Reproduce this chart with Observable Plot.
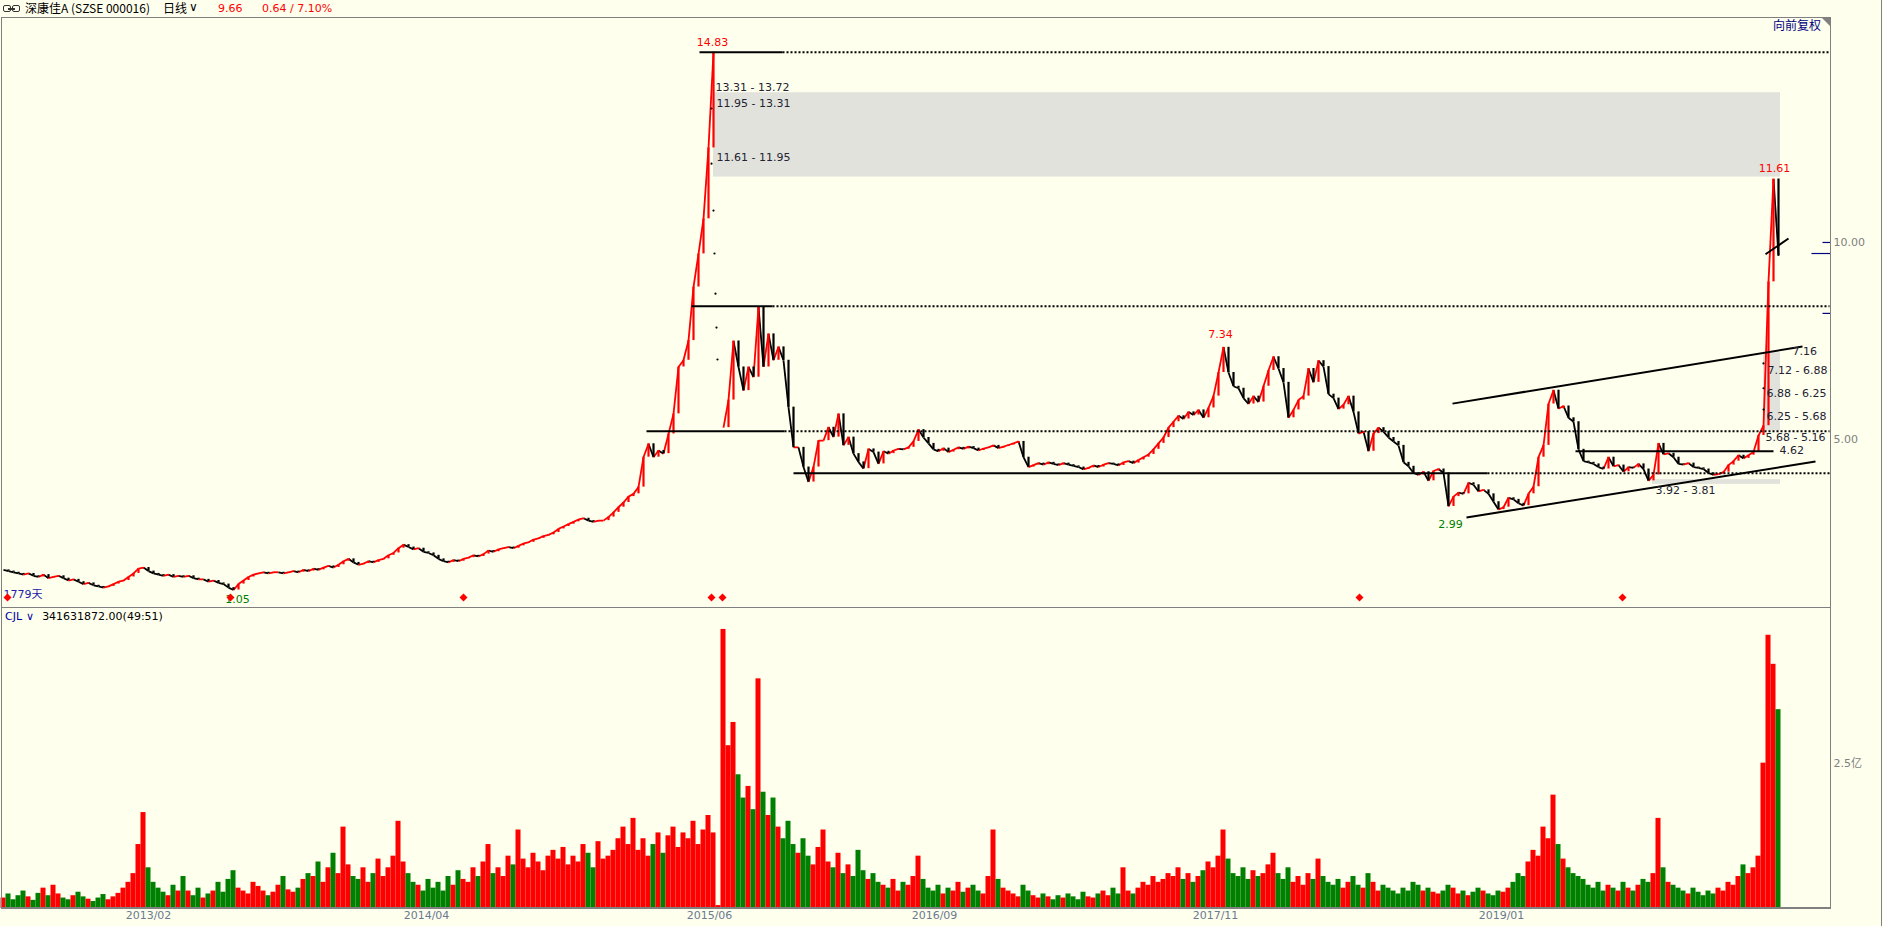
<!DOCTYPE html>
<html><head><meta charset="utf-8">
<script src="https://cdn.jsdelivr.net/npm/d3@7"></script>
<script src="https://cdn.jsdelivr.net/npm/@observablehq/plot@0.6"></script>
<style>
html,body{margin:0;padding:0;background:#FFFFEE;}
#wrap{position:relative;width:1883px;height:926px;background:#FFFFEE;overflow:hidden;font-family:"DejaVu Sans","Noto Sans CJK SC",sans-serif;}
.abs{position:absolute;white-space:nowrap;line-height:1;}
.ln{position:absolute;background:#808080;}
.cjk{font-family:"Noto Sans CJK SC",sans-serif;}
</style></head><body>
<div id="wrap">
  <div class="abs" style="left:3px;top:5px;width:18px;height:8px;">
    <span style="position:absolute;left:0;top:0;width:6px;height:5px;border:1.5px solid #333;border-radius:2px;"></span>
    <span style="position:absolute;left:9px;top:0;width:6px;height:5px;border:1.5px solid #333;border-radius:2px;"></span>
    <span style="position:absolute;left:5px;top:3px;width:7px;height:1.5px;background:#333;"></span>
  </div>
  <div class="abs cjk" style="left:25px;top:2px;font-size:12px;color:#000;">深康佳A (SZSE 000016)</div>
  <div class="abs cjk" style="left:163px;top:2px;font-size:12px;color:#000;">日线</div>
  <div class="abs" style="left:189px;top:1px;font-size:12px;color:#000;">∨</div>
  <div class="abs" style="left:218px;top:3px;font-size:11px;color:#FF0000;">9.66</div>
  <div class="abs" style="left:262px;top:3px;font-size:11px;color:#FF0000;">0.64 / 7.10%</div>

  <div id="price" class="abs" style="left:0;top:17px;"></div>
  <div id="vol" class="abs" style="left:0;top:608px;"></div>

  <div class="ln" style="left:1px;top:17px;width:1px;height:891px;"></div>
  <div class="ln" style="left:1px;top:17px;width:1830px;height:1px;"></div>
  <div class="ln" style="left:1830px;top:17px;width:1px;height:891px;"></div>
  <div class="ln" style="left:1px;top:607px;width:1830px;height:1px;"></div>
  <div class="ln" style="left:1px;top:907px;width:1830px;height:2px;"></div>
  <div class="ln" style="left:1881px;top:0;width:1px;height:926px;"></div>
  <div class="abs" style="left:1822px;top:18px;width:0;height:0;border-top:8px solid #808080;border-left:8px solid transparent;"></div>
  <div class="abs cjk" style="left:1773px;top:19px;font-size:12px;color:#000080;">向前复权</div>
  <div class="abs" style="left:5px;top:611px;font-size:11px;"><span style="color:#0000A0">CJL</span><span style="color:#0000A0;margin-left:4px;">∨</span><span style="color:#000;margin-left:8px;">341631872.00(49:51)</span></div>
</div>
<script>
// ---- data: daily K-line sampled every 5 trading days (close prices, 元) ----
const step = 5;
const closes = [
1.69,1.66,1.63,1.60,1.57,1.60,1.54,1.51,1.57,1.48,
1.51,1.54,1.48,1.42,1.45,1.39,1.33,1.36,1.30,1.27,
1.24,1.27,1.33,1.39,1.42,1.51,1.60,1.72,1.75,1.66,
1.60,1.57,1.54,1.57,1.51,1.54,1.51,1.54,1.48,1.45,
1.45,1.39,1.42,1.36,1.33,1.24,1.18,1.33,1.42,1.51,
1.57,1.60,1.63,1.60,1.63,1.63,1.60,1.63,1.66,1.63,
1.69,1.66,1.72,1.69,1.75,1.79,1.75,1.82,1.91,1.97,
1.88,1.82,1.85,1.91,1.88,1.94,1.97,2.06,2.12,2.24,
2.33,2.27,2.21,2.24,2.15,2.12,2.06,1.97,1.91,1.88,
1.94,1.91,1.97,2.00,2.06,2.03,2.09,2.18,2.15,2.21,
2.24,2.27,2.24,2.30,2.36,2.39,2.46,2.49,2.55,2.58,
2.64,2.73,2.79,2.85,2.91,2.97,3.00,2.94,2.91,2.94,
2.94,3.03,3.15,3.28,3.40,3.55,3.62,3.79,4.55,4.89,
4.55,4.72,4.64,5.14,5.65,6.84,7.01,7.51,8.87,9.71,
10.60,12.40,14.83,null,5.30,6.00,7.50,6.84,6.24,6.84,
6.58,8.36,6.84,7.68,7.01,7.35,7.01,5.82,4.80,4.80,
4.30,3.92,4.30,4.97,4.97,5.31,5.06,5.65,4.85,5.06,
4.64,4.43,4.26,4.76,4.68,4.38,4.70,4.64,4.72,4.76,
4.75,4.80,4.95,5.25,5.05,4.90,4.75,4.70,4.78,4.68,
4.74,4.80,4.76,4.82,4.78,4.72,4.77,4.80,4.85,4.78,
4.82,4.86,4.90,4.95,4.55,4.30,4.35,4.40,4.36,4.42,
4.38,4.35,4.40,4.36,4.33,4.30,4.24,4.28,4.34,4.30,
4.36,4.40,4.38,4.34,4.42,4.45,4.40,4.48,4.55,4.62,
4.75,4.90,5.05,5.30,5.45,5.60,5.52,5.70,5.62,5.75,
5.55,5.80,6.10,6.70,7.34,6.70,6.35,6.30,6.05,5.90,
6.10,5.95,6.35,6.75,7.10,6.80,6.45,5.55,5.75,6.00,
6.10,6.80,6.45,7.00,6.85,6.15,6.05,5.77,5.88,6.10,
5.70,5.15,5.20,4.70,5.15,5.30,5.20,5.05,4.95,4.85,
4.42,4.32,4.15,4.10,4.18,3.95,4.20,4.25,4.15,3.30,
3.55,3.65,3.62,3.90,3.85,3.68,3.72,3.62,3.42,3.22,
3.28,3.52,3.48,3.38,3.32,3.62,3.80,4.55,4.85,5.90,
6.25,5.78,5.85,5.55,5.45,4.75,4.45,4.42,4.38,4.30,
4.25,4.55,4.32,4.35,4.18,4.30,4.28,4.38,4.25,3.95,
4.10,4.90,4.62,4.65,4.55,4.38,4.36,4.40,4.30,4.28,
4.25,4.15,4.10,4.12,4.17,4.35,4.45,4.60,4.52,4.60,
4.68,5.10,5.35,9.00,11.61,9.66
];
// volume per sample (亿股)
const volumes = [
0.18,0.25,0.15,0.22,0.30,0.20,0.14,0.26,0.35,0.22,0.40,0.25,0.18,0.15,0.22,0.28,0.20,0.16,0.12,0.18,0.24,0.15,0.20,0.26,0.35,0.45,
0.60,1.10,1.65,0.70,0.45,
0.35,0.28,0.22,0.40,0.30,0.55,0.30,0.22,0.35,0.18,0.25,0.30,0.45,0.28,0.50,0.65,0.35,0.30,0.25,0.45,0.38,0.30,0.22,0.28,0.40,0.55,0.32,0.28,0.35,0.50,
0.60,0.55,0.80,0.45,0.70,0.95,0.60,1.40,0.75,0.55,
0.50,0.70,0.45,0.60,0.85,0.55,0.70,0.90,1.50,0.80,0.60,0.45,
0.40,0.30,0.50,0.35,0.45,0.30,0.55,0.40,0.65,0.50,0.45,0.70,0.55,0.80,1.10,0.60,0.70,0.55,
0.90,0.75,1.35,0.85,0.70,0.95,0.80,0.65,0.90,1.00,0.85,1.05,0.75,0.90,0.80,1.10,0.95,0.70,1.15,0.85,0.90,1.00,1.20,1.40,1.10,
1.55,1.00,1.20,0.90,1.10,1.30,0.95,1.25,1.40,1.05,1.30,1.20,1.50,1.10,1.35,1.60,
1.30,0.05,4.80,2.80,3.20,2.30,1.90,2.10,1.70,3.95,2.00,1.60,1.90,1.40,1.20,1.50,1.10,0.95,1.20,
0.90,0.75,1.05,1.35,0.80,0.70,0.95,0.60,0.75,0.55,1.00,0.65,0.50,0.60,0.45,
0.40,0.35,0.50,0.30,0.45,0.40,0.55,0.90,0.50,0.35,0.30,0.40,0.25,0.35,0.30,0.45,0.28,0.35,0.40,0.30,0.25,0.55,1.35,0.50,0.35,
0.30,0.25,0.20,0.40,0.30,0.22,0.18,0.25,0.20,0.15,0.22,0.18,0.25,0.20,0.15,0.28,0.20,0.18,0.25,0.30,0.22,0.35,0.25,0.70,0.30,0.25,0.35,0.45,0.40,0.55,
0.45,0.50,0.60,0.55,0.70,0.50,0.60,0.45,0.55,0.65,0.80,0.70,0.90,1.35,0.85,0.60,0.55,0.70,0.50,0.65,
0.55,0.60,0.75,0.95,0.60,0.50,0.70,0.45,0.55,0.40,0.60,0.50,
0.85,0.55,0.45,0.40,0.50,0.35,0.45,0.55,0.40,0.35,0.60,0.45,0.30,0.40,0.35,0.30,0.25,0.35,0.30,0.45,0.40,0.30,0.35,0.28,0.25,0.30,0.40,0.35,0.25,0.30,0.22,0.28,0.35,0.30,0.25,0.22,0.30,0.28,
0.35,0.45,0.60,0.55,0.80,1.00,0.90,1.40,1.20,1.95,1.10,0.85,0.70,0.60,0.55,
0.50,0.40,0.35,0.45,0.30,0.40,0.35,0.30,0.45,0.35,0.30,0.40,0.50,0.45,0.60,1.55,0.70,0.45,0.40,0.35,
0.30,0.25,0.35,0.28,0.22,0.30,0.25,0.35,0.30,0.45,0.40,0.55,0.75,0.60,0.70,
0.90,2.50,4.70,4.20,3.42
];
// one-price (limit) days drawn as dots
const dotDays = [708, 708, 710, 711, 712, 713, 714, 1760, 1760, 1760];
const dotVals = [12.0, 13.4, 10.81, 9.72, 8.70, 7.84, 7.03, 5.76, 6.30, 6.93];
// x-axis tick labels (trading-day index)
const tickLabels = ["2013/02", "2014/04", "2015/06", "2016/09", "2017/11", "2019/01"];
const tickDays = [145, 423, 706, 931, 1212, 1498];
// price axis labels
const axisVals = [10, 5];
const axisText = ["10.00", "5.00"];
const markVals = [10, 9.72, 8.2];
const markFrom = [1819, 1808, 1819];
// support / resistance levels
const levelVal = [14.83, 8.38, 5.21, 4.14, 4.70];
const levelFrom = [696, 688, 643, 790, 1572];
const levelTo = [779, 769, 781, 1484, 1770];
const levelDotted = [true, true, true, true, false];
const lastDay = 1826;
// gap boxes
const boxFrom = [710, 1760, 1649];
const boxTo = [1777, 1777, 1777];
const boxLo = [11.66, 5.22, 3.86];
const boxHi = [13.80, 7.20, 3.98];
// gap labels
const gapText = ["13.31 - 13.72", "11.95 - 13.31", "11.61 - 11.95", "7.16", "7.12 - 6.88", "6.88 - 6.25", "6.25 - 5.68", "5.68 - 5.16", "4.62", "3.92 - 3.81"];
const gapDay = [712, 713, 713, 1789, 1764, 1763, 1763, 1762, 1776, 1652];
const gapY = [13.93, 13.53, 12.16, 7.23, 6.75, 6.17, 5.58, 5.05, 4.72, 3.71];
// extreme labels
const extText = ["14.83", "11.61", "7.34", "2.99", "1.05"];
const extDay = [709, 1771, 1217, 1447, 234];
const extY = [15.08, 11.88, 7.66, 2.84, 0.94];
const extColor = ["#FF0000", "#FF0000", "#FF0000", "#008000", "#008000"];
// trend lines
const trendX1 = [1449, 1463, 1762];
const trendY1 = [5.91, 3.02, 9.70];
const trendX2 = [1799, 1812, 1785];
const trendY2 = [7.36, 4.44, 10.10];
// info flags
const flagDays = [4, 227, 460, 708, 719, 1356, 1619];
const dayCountText = "1779天";

// ---- derived tables ----
const rows = closes.map((c, i) => {
  const prev = i > 0 ? closes[i - 1] : null;
  return {day: i * step, c, prev, vol: volumes[i], up: c != null && prev != null ? c >= prev : true};
});
const segs = rows.filter(r => r.c != null && r.prev != null)
  .map(r => ({x1: r.day - step, x2: r.day, y1: r.prev, y2: r.c, up: r.c >= r.prev}));
const levels = levelVal.map((v, i) => ({v, a: levelFrom[i], b: levelTo[i], dotted: levelDotted[i]}));
const boxes = boxLo.map((lo, i) => ({x1: boxFrom[i], x2: boxTo[i], lo, hi: boxHi[i]}));
const gaps = gapText.map((t, i) => ({t, x: gapDay[i], y: gapY[i]}));
const exts = extText.map((t, i) => ({t, x: extDay[i], y: extY[i], c: extColor[i]}));
const trends = trendX1.map((x1, i) => ({x1, y1: trendY1[i], x2: trendX2[i], y2: trendY2[i]}));
const dots = dotDays.map((d, i) => ({d, v: dotVals[i]}));
const marks = markVals.map((v, i) => ({v, a: markFrom[i]}));
const FONT = "DejaVu Sans, Noto Sans CJK SC, sans-serif";
const upColor = d => d.up ? "#FF0000" : "#000000";

const xOpt = {domain: [0, 1827], axis: null};
const common = {width: 1883, marginLeft: 3, marginRight: 53, marginTop: 0,
  style: {background: "transparent", overflow: "visible", fontFamily: FONT}};

const pricePlot = Plot.plot({
  ...common,
  height: 591, marginBottom: 0,
  x: xOpt,
  y: {domain: [0.71, 15.71], axis: null},
  marks: [
    Plot.rect(boxes, {x1: "x1", x2: "x2", y1: "lo", y2: "hi", fill: "#E2E2DC"}),
    Plot.link(segs, {x1: "x1", x2: "x2", y1: "y1", y2: "y2", stroke: upColor, strokeWidth: 1.8}),
    Plot.ruleX(segs, {x: "x2", y1: "y1", y2: "y2", stroke: upColor, strokeWidth: 2.2}),
    Plot.dot(dots, {x: "d", y: "v", r: 1.1, fill: "#000", stroke: "none"}),
    Plot.link(levels, {x1: "a", x2: "b", y1: "v", y2: "v", stroke: "#000", strokeWidth: 2}),
    Plot.link(levels.filter(d => d.dotted), {x1: "b", x2: () => lastDay, y1: "v", y2: "v", stroke: "#000", strokeWidth: 2, strokeDasharray: "2,2"}),
    Plot.link(trends, {x1: "x1", y1: "y1", x2: "x2", y2: "y2", stroke: "#000", strokeWidth: 2}),
    Plot.link(marks, {x1: "a", x2: () => 1827, y1: "v", y2: "v", stroke: "#000080", strokeWidth: 1.2}),
    Plot.text(gaps, {x: "x", y: "y", text: "t", textAnchor: "start", fill: "#222233", fontSize: 11, fontFamily: FONT}),
    Plot.text(exts, {x: "x", y: "y", text: "t", fill: d => d.c, fontSize: 11, fontFamily: FONT}),
    Plot.text(axisVals, {y: d => d, text: (d, i) => axisText[i], frameAnchor: "right", dx: 3, textAnchor: "start", fill: "#808080", fontSize: 11, fontFamily: FONT}),
    Plot.text([dayCountText], {x: () => 0, frameAnchor: "bottom", dy: -11, textAnchor: "start", fill: "#2222AA", fontSize: 11, fontFamily: FONT}),
    Plot.dot(flagDays, {x: d => d, frameAnchor: "bottom", dy: -11, symbol: "diamond2", r: 3.6, fill: "#FF0000", stroke: "none"})
  ]
});
document.getElementById("price").append(pricePlot);

const volPlot = Plot.plot({
  ...common,
  height: 318, marginBottom: 18,
  x: xOpt,
  y: {domain: [0, 5.16], axis: null},
  marks: [
    Plot.rectY(rows, {x1: d => d.day - step / 2, x2: d => d.day + step / 2, y: "vol", fill: d => d.up ? "#FF0000" : "#008000"}),
    Plot.text([2.5], {y: d => d, text: () => "2.5亿", frameAnchor: "right", dx: 3, textAnchor: "start", fill: "#808080", fontSize: 11, fontFamily: FONT}),
    Plot.text(tickLabels, {x: (d, i) => tickDays[i], text: d => d, frameAnchor: "bottom", dy: 10, fill: "#6A7A90", fontSize: 11, fontFamily: FONT})
  ]
});
document.getElementById("vol").append(volPlot);
</script>
</body></html>
